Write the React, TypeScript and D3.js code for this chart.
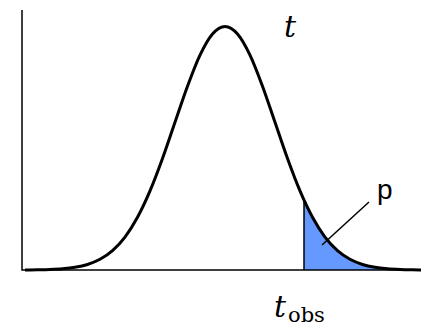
import React from "react";
import * as d3 from "d3";

// t values (x) and density (relative to peak = 1)
const tValues = [-4, -3.75, -3.5, -3.25, -3, -2.75, -2.5, -2.25, -2, -1.75, -1.5, -1.25, -1, -0.75, -0.5, -0.25, 0,
  0.25, 0.5, 0.75, 1, 1.25, 1.5, 1.75, 2, 2.25, 2.5, 2.75, 3, 3.25, 3.5, 3.75, 4];
const density = [0.0003, 0.0009, 0.0022, 0.0051, 0.0111, 0.0228, 0.0439, 0.0796, 0.1353, 0.2163, 0.3247, 0.4578, 0.6065, 0.7548, 0.8825, 0.9692, 1,
  0.9692, 0.8825, 0.7548, 0.6065, 0.4578, 0.3247, 0.2163, 0.1353, 0.0796, 0.0439, 0.0228, 0.0111, 0.0051, 0.0022, 0.0009, 0.0003];
const tObs = 1.58;
const labels = { curve: "t", obs: "t", obsSub: "obs", p: "p" };

const W = 421;
const H = 327;

export default function App() {
  const x = d3.scaleLinear().domain([-4, 4]).range([25, 425]);
  const y = d3.scaleLinear().domain([0, 1]).range([270, 26.5]);
  const pts = tValues.map((t, i) => [t, density[i]] as [number, number]);
  const line = d3.line<[number, number]>().x(d => x(d[0])).y(d => y(d[1])).curve(d3.curveMonotoneX);
  const area = d3.area<[number, number]>().x(d => x(d[0])).y0(y(0)).y1(d => y(d[1])).curve(d3.curveMonotoneX);
  const xo = x(tObs);
  const x0 = 22;
  const yBase = y(0);
  return (
    <svg width={W} height={H} style={{ position: "absolute", left: 0, top: 0, background: "#fff" }}>
      <defs>
        <clipPath id="tail">
          <rect x={xo} y={0} width={W - xo} height={yBase} />
        </clipPath>
      </defs>
      <path d={area(pts) || ""} fill="#6699ff" clipPath="url(#tail)" />
      <line x1={xo} x2={xo} y1={yBase} y2={y(0.287)} stroke="#000" strokeWidth={1.5} />
      <path d={`M${x0},10V${yBase}H${W}`} fill="none" stroke="#000" strokeWidth={1.5} />
      <path d={line(pts) || ""} fill="none" stroke="#000" strokeWidth={3} strokeLinejoin="round" />
      <line x1={322} y1={245} x2={369} y2={202} stroke="#000" strokeWidth={1.5} />
      <text x={377} y={199} fontFamily="Liberation Sans, Arial, sans-serif" fontSize={28}>{labels.p}</text>
      <text x={284} y={37} fontFamily="DejaVu Serif, serif" fontStyle="italic" fontSize={30}>{labels.curve}</text>
      <text x={274} y={317} fontFamily="DejaVu Serif, serif" fontStyle="italic" fontSize={30}>{labels.obs}</text>
      <text x={288} y={322} fontFamily="DejaVu Serif, serif" fontSize={21}>{labels.obsSub}</text>
    </svg>
  );
}
